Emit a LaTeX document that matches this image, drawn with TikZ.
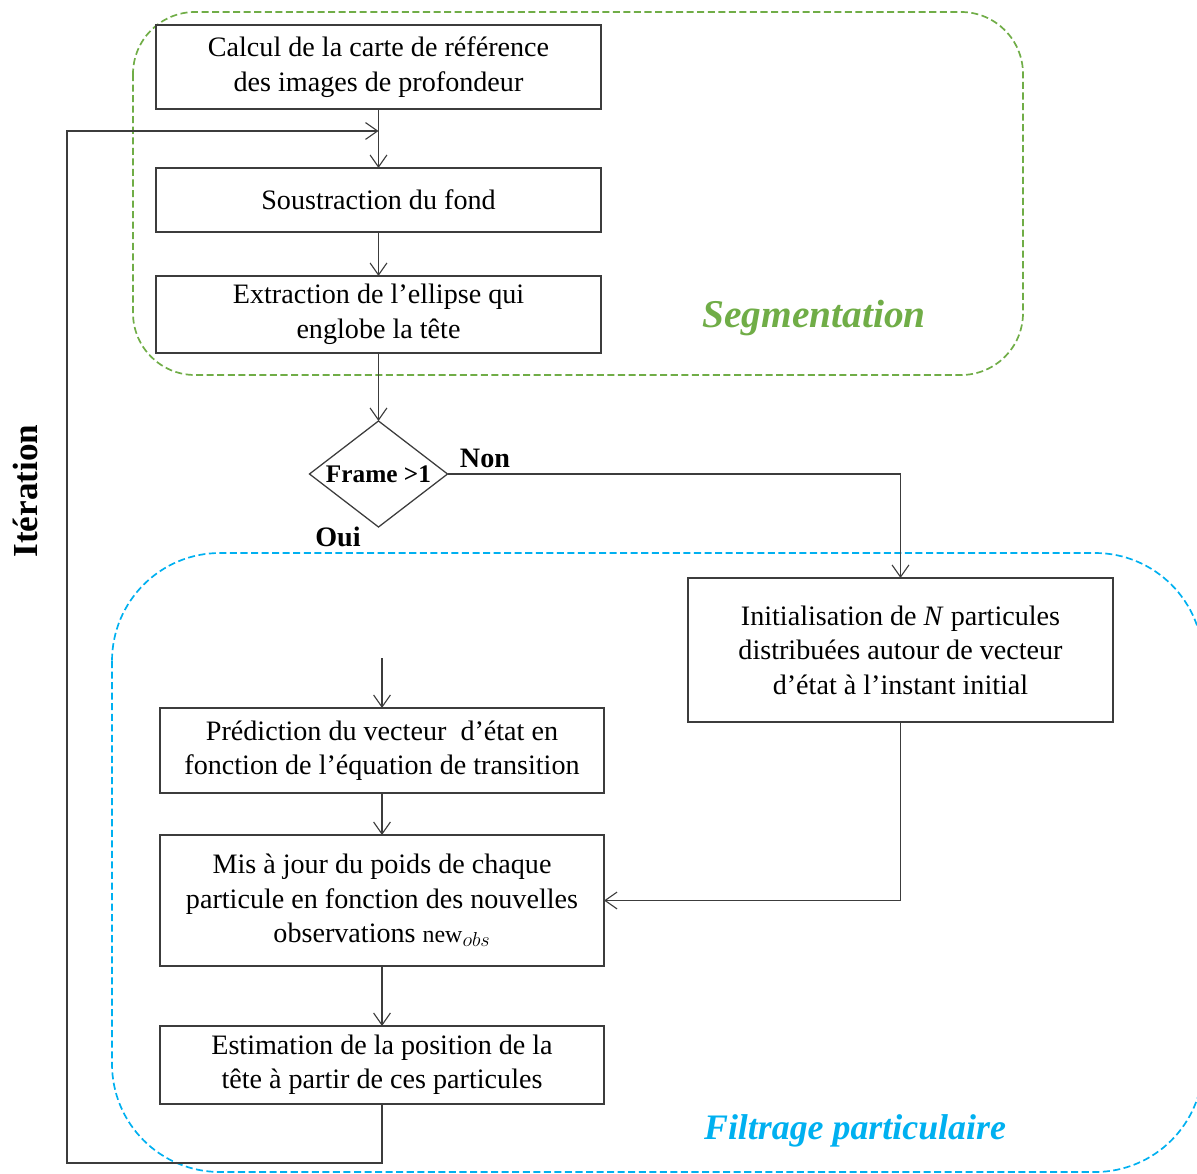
\documentclass[tikz,border=0pt]{standalone}
\usepackage{fontspec}
\setmainfont{Liberation Serif}
\usetikzlibrary{arrows.meta,shapes.geometric}
\definecolor{segg}{RGB}{112,173,71}
\definecolor{filb}{RGB}{0,176,240}
\definecolor{ln}{RGB}{60,60,60}
\tikzset{
  box/.style={draw=ln,line width=0.9pt,inner sep=0pt,outer sep=0pt,align=center,
    font=\fontsize{20}{24.5}\selectfont},
  arr/.style={draw=ln,line width=0.8pt,-{Straight Barb[length=3mm,width=4.2mm]}},
  ln/.style={draw=ln,line width=0.8pt},
  lab/.style={font=\bfseries\fontsize{20}{24}\selectfont},
}
\begin{document}
\begin{tikzpicture}[x=0.025cm,y=-0.025cm]
\clip (0,0) rectangle (1197,1174);
% groups
\draw[segg,line width=1.2pt,dash pattern=on 5pt off 2.5pt,rounded corners=1.55cm] (133,12) rectangle (1023,375);
\draw[filb,line width=1.2pt,dash pattern=on 5pt off 2.5pt,rounded corners=2.7cm] (112,553) rectangle (1203,1172);
% boxes
\node[box,minimum width=11.125cm,minimum height=2.1cm] (b1) at (378.5,67) {Calcul de la carte de référence\\des images de profondeur};
\node[box,minimum width=11.125cm,minimum height=1.6cm] (b2) at (378.5,200) {Soustraction du fond};
\node[box,minimum width=11.125cm,minimum height=1.925cm] (b3) at (378.5,314.5) {Extraction de l’ellipse qui\\englobe la tête};
\node[draw=ln,line width=0.9pt,diamond,inner sep=0pt,outer sep=0pt,minimum width=3.45cm,minimum height=2.65cm] (dia) at (378.5,474) {};
\node[font=\bfseries\fontsize{18}{20}\selectfont] at (dia.center) {Frame >1};
\node[box,minimum width=10.625cm,minimum height=3.6cm] (init) at (900.5,650) {Initialisation de \textit{N} particules\\distribuées autour de vecteur\\d’état à l’instant initial};
\node[box,minimum width=11.1cm,minimum height=2.125cm] (pred) at (382,750.5) {Prédiction du vecteur\ \ d’état en\\fonction de l’équation de transition};
\node[box,minimum width=11.1cm,minimum height=3.275cm] (mis) at (382,900.5) {Mis à jour du poids de chaque\\particule en fonction des nouvelles\\observations {\fontsize{17}{20}\selectfont new}$_{obs}$};
\node[box,minimum width=11.1cm,minimum height=1.95cm] (est) at (382,1065) {Estimation de la position de la\\tête à partir de ces particules};
% coordinates
\coordinate (join) at (378.5,131);
\coordinate (free) at (382,658);
\coordinate (botR) at (382,1163);
\coordinate (botL) at (67,1163);
\coordinate (topL) at (67,131);
% connectors
\draw[arr] (b1.south) -- (b2.north);
\draw[arr] (b2.south) -- (b3.north);
\draw[arr] (b3.south) -- (dia.north);
\draw[arr] (dia.east) -| (init.north);
\draw[arr] (free) -- (pred.north);
\draw[arr] (pred.south) -- (mis.north);
\draw[arr] (init.south) |- (mis.east);
\draw[arr] (mis.south) -- (est.north);
\draw[arr] (est.south) -- (botR) -- (botL) -- (topL) -- (join);
% labels
\node[lab] (non) at (485,458) {Non};
\node[lab] (oui) at (338,537) {Oui};
\node[font=\bfseries\fontsize{25}{28}\selectfont,rotate=90] (iter) at (25,491) {Itération};
\node[font=\bfseries\itshape\fontsize{28}{30}\selectfont,text=segg] (seg) at (814,318) {Segmentation};
\node[font=\bfseries\itshape\fontsize{25.5}{28}\selectfont,text=filb] (fil) at (855,1131) {Filtrage particulaire};
\end{tikzpicture}
\end{document}
